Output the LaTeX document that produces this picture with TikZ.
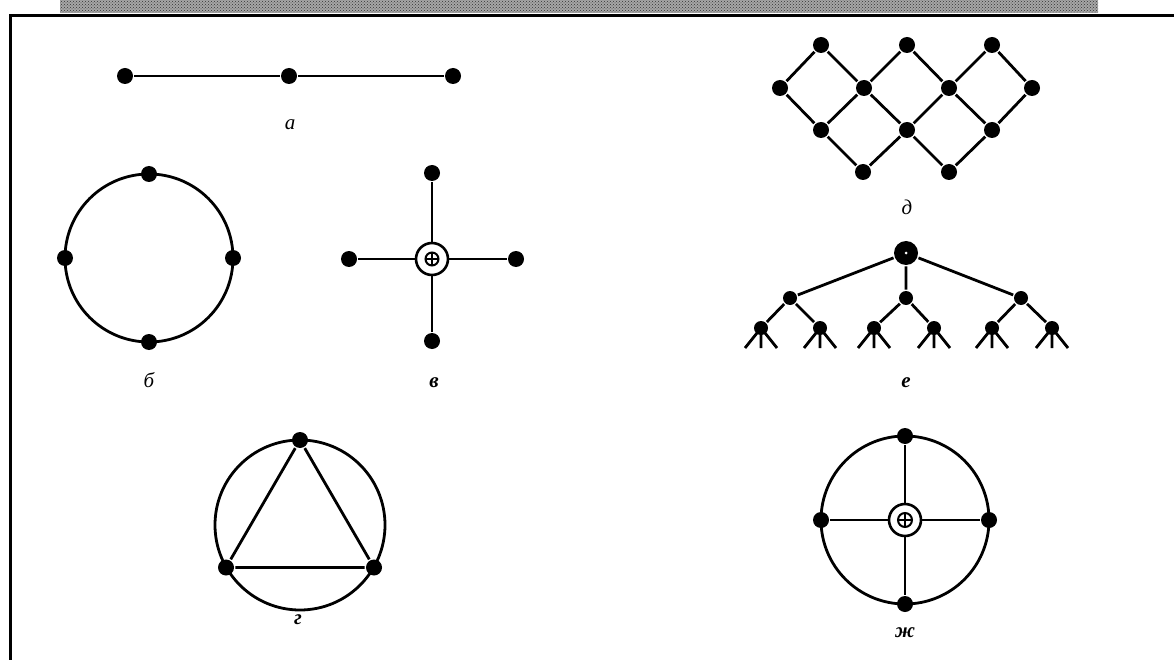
\documentclass[tikz,border=0pt]{standalone}
\usepackage{fontspec}
\setmainfont{Liberation Serif}
\usetikzlibrary{patterns}
\begin{document}
\begin{tikzpicture}[x=1pt,y=-1pt,
  line width=2.8pt,
  dot/.style={circle,fill=black,inner sep=0pt,minimum size=16pt},
  sdot/.style={circle,fill=black,inner sep=0pt,minimum size=14pt},
  hub/.style={circle,draw,line width=2.6pt,inner sep=0pt,minimum size=32pt},
  rootdot/.style={circle,fill=black,inner sep=0pt,minimum size=24pt},
  lbl/.style={font=\fontsize{21}{23}\selectfont\itshape,inner sep=0pt},
  blbl/.style={font=\fontsize{21}{23}\selectfont\itshape\bfseries,inner sep=0pt},
  edge/.style={line width=2.8pt}]
\useasboundingbox (0,0) rectangle (1174,660);
% top band and frame
\fill[black!35] (60,0) rectangle (1098,13);
\fill[pattern=crosshatch dots,pattern color=black!80] (60,0) rectangle (1098,13);
\draw[line width=3.5pt] (9,15.5) -- (1174,15.5);
\draw[line width=3.5pt] (10.5,15.5) -- (10.5,660);

% a: chain
\node[dot] (a1) at (125,76) {};
\node[dot] (a2) at (289,76) {};
\node[dot] (a3) at (453,76) {};
\draw[edge] (a1) -- (a2) -- (a3);
\node[lbl] (la) at (290,125) {а};

% b: ring
\coordinate (bc) at (149,258);
\draw[edge] (bc) circle[radius=84pt];
\node[dot] (b1) at (149,174) {};
\node[dot] (b2) at (233,258) {};
\node[dot] (b3) at (149,342) {};
\node[dot] (b4) at (65,258) {};
\node[lbl] (lb) at (149,380) {б};

% v: star
\node[hub] (v0) at (432,259) {};
\draw[line width=2pt] (v0.center) circle[radius=6.5pt];
\draw[line width=1.6pt] (425.5,259) -- (438.5,259) (432,252.5) -- (432,265.5);
\node[dot] (v1) at (432,173) {};
\node[dot] (v2) at (516,259) {};
\node[dot] (v3) at (432,341) {};
\node[dot] (v4) at (349,259) {};
\draw[edge] (v0) -- (v1) (v0) -- (v2) (v0) -- (v3) (v0) -- (v4);
\node[blbl] (lv) at (434,383) {в};

% g: triangle in circle
\coordinate (gc) at (300,525);
\draw[edge] (gc) circle[radius=85pt];
\node[dot] (g1) at (300,440) {};
\node[dot] (g2) at (374,567.5) {};
\node[dot] (g3) at (226,567.5) {};
\draw[edge] (g1) -- (g2) -- (g3) -- (g1);
\node[blbl] (lg) at (298,620) {г};

% d: lattice
\node[dot] (t1) at (821,45) {};
\node[dot] (t2) at (907,45) {};
\node[dot] (t3) at (992,45) {};
\node[dot] (da) at (780,88) {};
\node[dot] (db) at (864,88) {};
\node[dot] (dc) at (949,88) {};
\node[dot] (dd) at (1032,88) {};
\node[dot] (de) at (821,130) {};
\node[dot] (df) at (907,130) {};
\node[dot] (dg) at (992,130) {};
\node[dot] (dh) at (863,172) {};
\node[dot] (di) at (949,172) {};
\draw[edge] (t1) -- (da) (t1) -- (db) (t2) -- (db) (t2) -- (dc) (t3) -- (dc) (t3) -- (dd)
  (da) -- (de) (db) -- (de) (db) -- (df) (dc) -- (df) (dc) -- (dg) (dd) -- (dg)
  (de) -- (dh) (df) -- (dh) (df) -- (di) (dg) -- (di);
\node[lbl] (ld) at (907,207) {д};

% e: tree
\node[rootdot] (r0) at (906,253) {};
\fill[white] (r0.center) circle[radius=1.5pt];
\node[sdot] (r1) at (790,298) {};
\node[sdot] (r2) at (906,298) {};
\node[sdot] (r3) at (1021,298) {};
\draw[edge] (r0) -- (r1) (r0) -- (r2) (r0) -- (r3);
\foreach \n/\x/\p in {1/761/r1,2/820/r1,3/874/r2,4/934/r2,5/992/r3,6/1052/r3}{
  \node[sdot] (leaf\n) at (\x,328) {};
  \coordinate (sl\n) at (\x-16,348);
  \coordinate (sm\n) at (\x,348);
  \coordinate (sr\n) at (\x+16,348);
  \draw[edge] (\p) -- (leaf\n);
  \draw[edge] (leaf\n.center) -- (sl\n) (leaf\n.center) -- (sm\n) (leaf\n.center) -- (sr\n);
}
\node[blbl] (le) at (906,383) {е};

% zh: circle with cross and hub
\coordinate (zc) at (905,520);
\draw[edge] (zc) circle[radius=84pt];
\node[hub] (z0) at (905,520) {};
\draw[line width=2pt] (z0.center) circle[radius=7pt];
\draw[line width=1.6pt] (898,520) -- (912,520) (905,513) -- (905,527);
\node[dot] (z1) at (905,436) {};
\node[dot] (z2) at (989,520) {};
\node[dot] (z3) at (905,604) {};
\node[dot] (z4) at (821,520) {};
\draw[edge] (z0) -- (z1) (z0) -- (z2) (z0) -- (z3) (z0) -- (z4);
\node[blbl] (lz) at (905,633) {ж};
\end{tikzpicture}
\end{document}
